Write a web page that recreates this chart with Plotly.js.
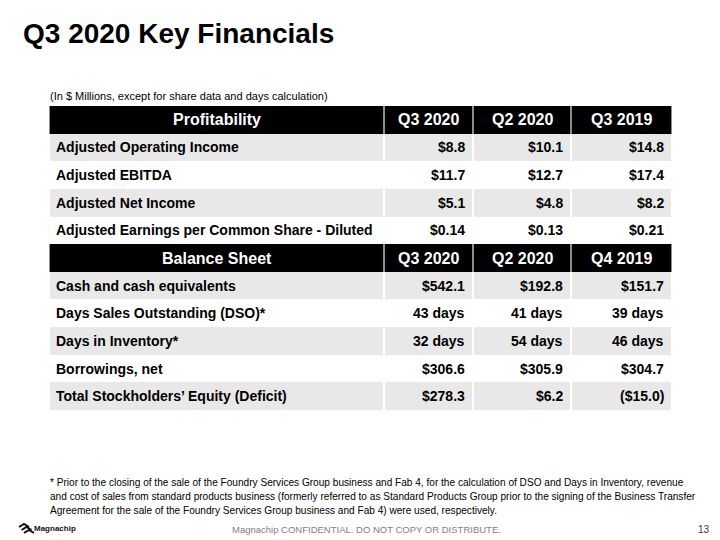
<!DOCTYPE html>
<html>
<head>
<meta charset="utf-8">
<script src="https://cdn.plot.ly/plotly-3.0.1.min.js"></script>
<style>
  html, body { margin: 0; padding: 0; background: #ffffff; }
  #chart { width: 720px; height: 540px; }
</style>
</head>
<body>
<div id="chart"></div>
<script>
// table content
var profitTitle = 'Profitability';
var profitPeriods = ['Q3 2020', 'Q2 2020', 'Q3 2019'];
var profitRows = ['Adjusted Operating Income', 'Adjusted EBITDA', 'Adjusted Net Income',
  'Adjusted Earnings per Common Share - Diluted'];
var profitQ3_2020 = ['$8.8', '$11.7', '$5.1', '$0.14'];
var profitQ2_2020 = ['$10.1', '$12.7', '$4.8', '$0.13'];
var profitQ3_2019 = ['$14.8', '$17.4', '$8.2', '$0.21'];

var balanceTitle = 'Balance Sheet';
var balancePeriods = ['Q3 2020', 'Q2 2020', 'Q4 2019'];
var balanceRows = ['Cash and cash equivalents', 'Days Sales Outstanding (DSO)*', 'Days in Inventory*',
  'Borrowings, net', 'Total Stockholders\u2019 Equity (Deficit)'];
var balanceQ3_2020 = ['$542.1', '43 days', '32 days', '$306.6', '$278.3'];
var balanceQ2_2020 = ['$192.8', '41 days', '54 days', '$305.9', '$6.2'];
var balanceQ4_2019 = ['$151.7', '39 days', '46 days', '$304.7', '($15.0)'];

var footnoteLines = [
  '* Prior to the closing of the sale of the Foundry Services Group business and Fab 4, for the calculation of DSO and Days in Inventory, revenue',
  'and cost of sales from standard products business (formerly referred to as Standard Products Group prior to the signing of the Business Transfer',
  'Agreement for the sale of the Foundry Services Group business and Fab 4) were used, respectively.'
];

// column edges of the table (relative widths)
var colEdges = [0, 335, 424, 522, 623];

var FONT = 'Liberation Sans, Arial, sans-serif';
var W = 720, H = 540;
function px(x) { return x / W; }
function py(y) { return 1 - y / H; }

// build the grid: each row is [label, v1, v2, v3] plus a style code
// 0 white, 1 light gray, 2 black header
var grid = [];
function addSection(title, periods, rows, c1, c2, c3) {
  grid.push({cells: [title].concat(periods), code: 2});
  for (var i = 0; i < rows.length; i++) {
    grid.push({cells: [rows[i], c1[i], c2[i], c3[i]], code: i % 2 === 0 ? 1 : 0});
  }
}
addSection(profitTitle, profitPeriods, profitRows, profitQ3_2020, profitQ2_2020, profitQ3_2019);
addSection(balanceTitle, balancePeriods, balanceRows, balanceQ3_2020, balanceQ2_2020, balanceQ4_2019);

var rowIdx = grid.map(function(r, i) { return i; });
var zMain = grid.map(function(r) { return [r.code, r.code, r.code, r.code]; });
// gray underlay so the gaps between header cells look gray
var zUnder = grid.map(function(r) { return r.code === 2 ? [3, 3, 3, 3] : [null, null, null, null]; });

var colorscale = [[0, '#ffffff'], [1/3, '#e8e8e8'], [2/3, '#000000'], [1, '#8c8c8c']];

var under = {
  type: 'heatmap', x: colEdges, y: rowIdx, z: zUnder,
  zmin: 0, zmax: 3, colorscale: colorscale, showscale: false, hoverinfo: 'skip'
};
var main = {
  type: 'heatmap', x: colEdges, y: rowIdx, z: zMain,
  zmin: 0, zmax: 3, colorscale: colorscale, showscale: false, hoverinfo: 'skip',
  xgap: 2
};

var annotations = [];
grid.forEach(function(r, i) {
  r.cells.forEach(function(t, c) {
    if (r.code === 2) {
      annotations.push({
        x: (colEdges[c] + colEdges[c + 1]) / 2, y: i, xref: 'x', yref: 'y',
        text: t, showarrow: false, xanchor: 'center', yanchor: 'middle',
        font: {family: FONT, size: 16, color: '#ffffff', weight: 'bold'}
      });
    } else if (c === 0) {
      annotations.push({
        x: colEdges[0], y: i, xref: 'x', yref: 'y', xshift: 5,
        text: t, showarrow: false, xanchor: 'left', yanchor: 'middle',
        font: {family: FONT, size: 14, color: '#000000', weight: 'bold'}
      });
    } else {
      annotations.push({
        x: colEdges[c + 1], y: i, xref: 'x', yref: 'y', xshift: -6,
        text: t, showarrow: false, xanchor: 'right', yanchor: 'middle',
        font: {family: FONT, size: 14, color: '#000000', weight: 'bold'}
      });
    }
  });
});

// slide texts
annotations.push({
  x: px(21), y: py(33), xref: 'paper', yref: 'paper', xanchor: 'left', yanchor: 'middle',
  text: 'Q3 2020 Key Financials', showarrow: false,
  font: {family: FONT, size: 28, color: '#000000', weight: 'bold'}
});
annotations.push({
  x: px(48), y: py(96), xref: 'paper', yref: 'paper', xanchor: 'left', yanchor: 'middle',
  text: '(In $ Millions, except for share data and days calculation)', showarrow: false,
  font: {family: FONT, size: 11, color: '#000000'}
});
footnoteLines.forEach(function(line, i) {
  annotations.push({
    x: px(48), y: py(482 + i * 14), xref: 'paper', yref: 'paper', xanchor: 'left', yanchor: 'middle',
    text: line, showarrow: false,
    font: {family: FONT, size: 10.1, color: '#000000'}
  });
});
annotations.push({
  x: px(366), y: py(529), xref: 'paper', yref: 'paper', xanchor: 'center', yanchor: 'middle',
  text: 'Magnachip CONFIDENTIAL. DO NOT COPY OR DISTRIBUTE.', showarrow: false,
  font: {family: FONT, size: 9.5, color: '#7f7f7f'}
});
annotations.push({
  x: px(712), y: py(529), xref: 'paper', yref: 'paper', xanchor: 'right', yanchor: 'middle',
  text: '13', showarrow: false,
  font: {family: FONT, size: 10, color: '#333333'}
});
annotations.push({
  x: px(32), y: py(528), xref: 'paper', yref: 'paper', xanchor: 'left', yanchor: 'middle',
  text: 'Magnachip', showarrow: false,
  font: {family: FONT, size: 8, color: '#111111', weight: 'bold'}
});

// small logo mark: three stacked chevron strokes
var shapes = [0, 1, 2].map(function(k) {
  var ox = 19 + k * 2.5, oy = 524 + k * 3;
  return {
    type: 'path', xref: 'paper', yref: 'paper',
    path: 'M' + px(ox) + ',' + py(oy + 3) + ' L' + px(ox + 5) + ',' + py(oy) +
          ' L' + px(ox + 10) + ',' + py(oy + 3),
    line: {color: '#111111', width: 2}
  };
});

var layout = {
  width: W, height: H,
  margin: {l: 0, r: 0, t: 0, b: 0},
  paper_bgcolor: '#ffffff', plot_bgcolor: '#ffffff',
  xaxis: {domain: [px(49), px(672)], range: [0, 623], visible: false, fixedrange: true},
  yaxis: {domain: [py(410), py(106)], range: [grid.length - 0.5, -0.5], visible: false, fixedrange: true},
  annotations: annotations,
  shapes: shapes,
  showlegend: false
};

Plotly.newPlot('chart', [under, main], layout, {displayModeBar: false, staticPlot: true});
</script>
</body>
</html>
